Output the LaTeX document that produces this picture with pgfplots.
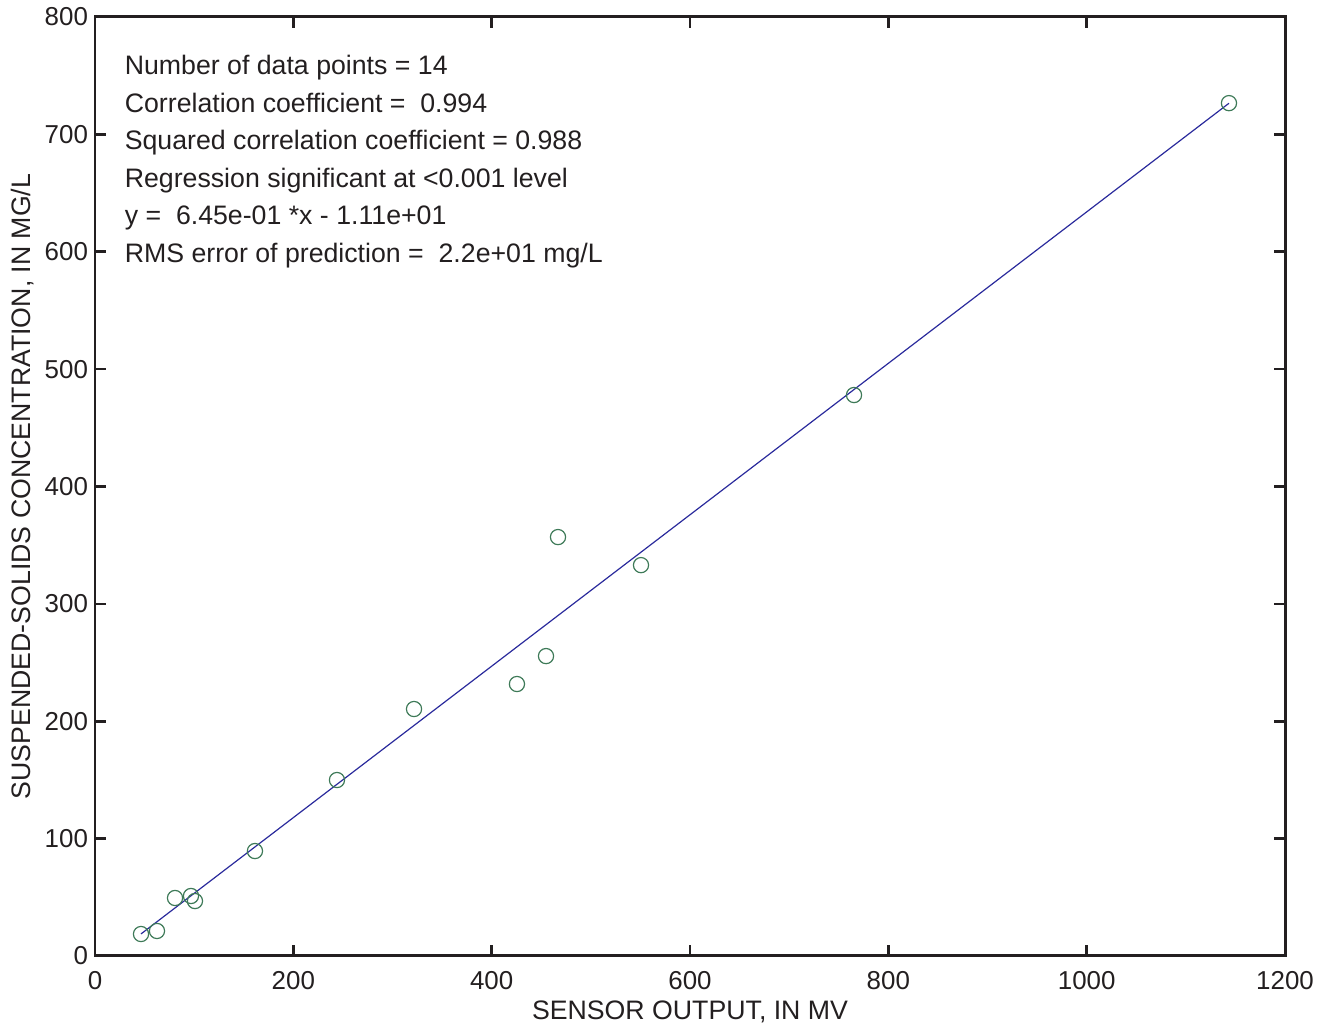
\documentclass[border=0pt]{standalone}
\usepackage{fontspec}
\setmainfont{Liberation Sans}
\usepackage{pgfplots}
\pgfplotsset{compat=1.18}
\definecolor{mk}{HTML}{3E7A58}
\definecolor{ln}{HTML}{2A2A9C}
\definecolor{ink}{HTML}{231F20}
\begin{document}
\begin{tikzpicture}
\begin{axis}[
  name=ax,
  scale only axis,
  width=595bp, height=469.5bp,
  xmin=0, xmax=1200, ymin=0, ymax=800,
  xtick={0,200,...,1200}, ytick={0,100,...,800},
  tick align=inside, tick pos=both,
  major tick length=5.5bp,
  axis line style={line width=1.5pt, ink},
  every tick/.style={line width=1.3pt, ink},
  /pgf/number format/assume math mode=true,
  /pgf/number format/1000 sep={},
  tick label style={font=\fontsize{13}{15}\selectfont, text=ink},
  xticklabel style={yshift=-4bp},
  label style={font=\fontsize{13.4}{15}\selectfont, text=ink},
  xlabel={SENSOR OUTPUT, IN MV},
  ylabel={SUSPENDED-SOLIDS CONCENTRATION, IN MG/L},
  xlabel style={at={(axis description cs:0.5,-0.0596)}, anchor=center},
  ylabel style={at={(axis description cs:-0.0613,0.5)}, anchor=center},
  clip=false,
]
\addplot[only marks, mark=o, mark size=3.8bp, mark options={draw=mk, line width=0.6pt}] coordinates {
(46.4,18.7) (62.5,21.3) (80.7,49.4) (96.8,51.1) (100.8,46.8) (161.3,89.4)
(244,149.9) (321.7,210.4) (425.5,231.7) (454.8,255.5) (466.9,356.9)
(550.6,333.0) (765.4,477.9) (1143.5,726.6)
};
\addplot[ln, line width=0.6pt] coordinates {(46.4,18.8) (1143.5,726.5)};
\node[anchor=base west, font=\fontsize{13.4}{15}\selectfont, text=ink] at (axis cs:23,751) {Number of data points = 14};
\node[anchor=base west, font=\fontsize{13.4}{15}\selectfont, text=ink] at (axis cs:23,719) {Correlation coefficient = \ 0.994};
\node[anchor=base west, font=\fontsize{13.4}{15}\selectfont, text=ink] at (axis cs:23,687) {Squared correlation coefficient = 0.988};
\node[anchor=base west, font=\fontsize{13.4}{15}\selectfont, text=ink] at (axis cs:23,655) {Regression significant at <0.001 level};
\node[anchor=base west, font=\fontsize{13.4}{15}\selectfont, text=ink] at (axis cs:23,623) {y = \ 6.45e-01 *x - 1.11e+01};
\node[anchor=base west, font=\fontsize{13.4}{15}\selectfont, text=ink] at (axis cs:23,591) {RMS error of prediction = \ 2.2e+01 mg/L};
\end{axis}
\pgfresetboundingbox
\path (ax.south west) ++(-47.5bp,-36.5bp) coordinate (bl);
\path (ax.north east) ++(21.5bp,8.5bp) coordinate (tr);
\path[use as bounding box] (bl) rectangle (tr);
\end{tikzpicture}
\end{document}
